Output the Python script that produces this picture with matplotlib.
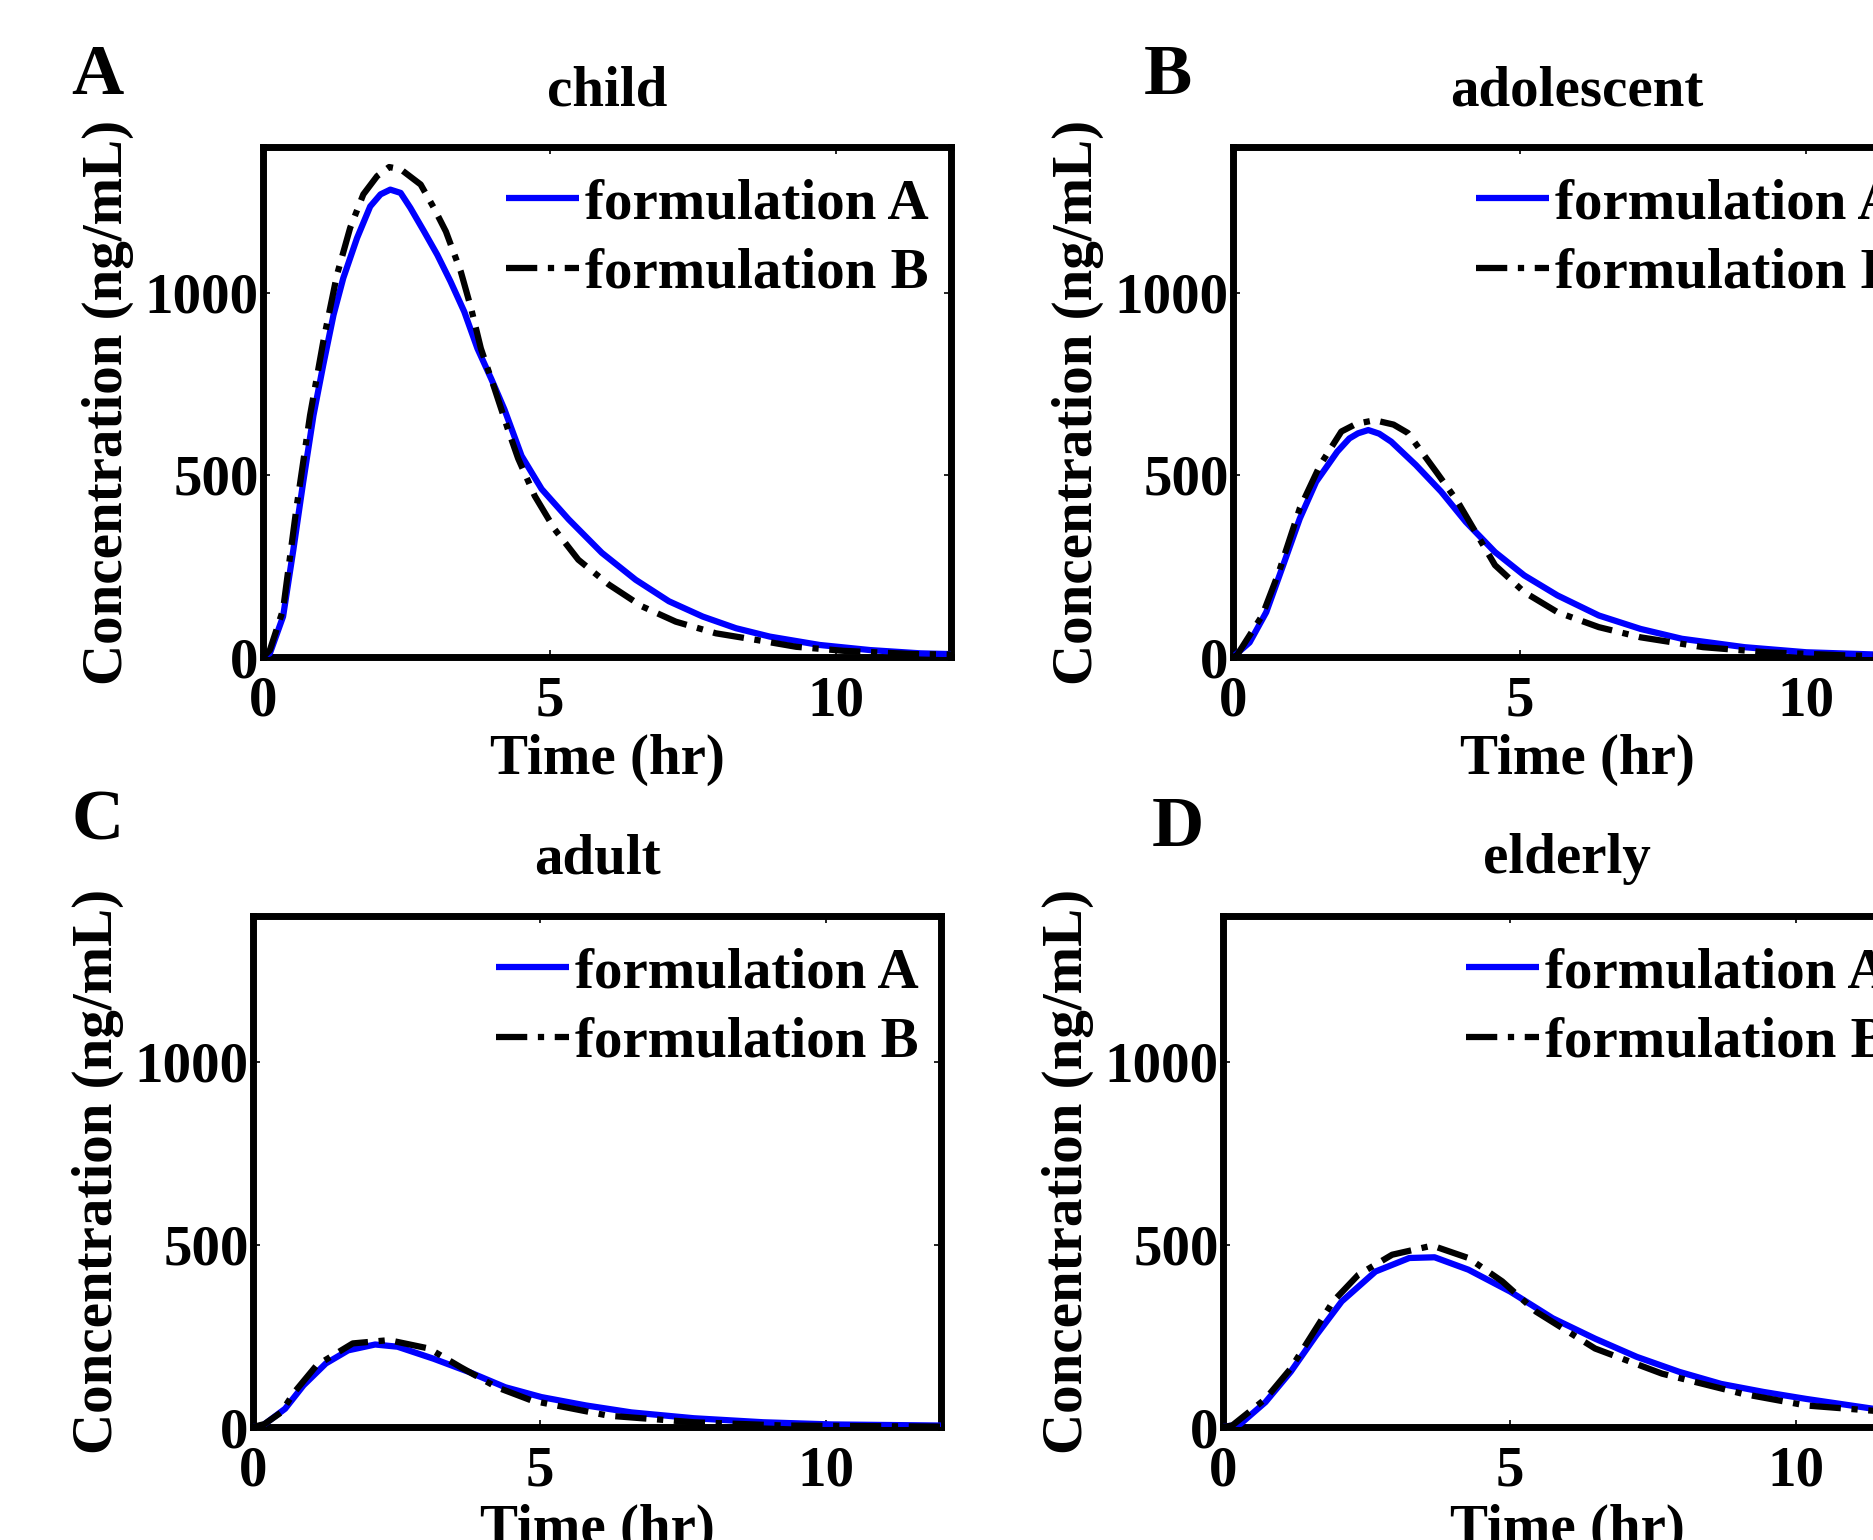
import matplotlib
matplotlib.use("Agg")
import matplotlib.pyplot as plt

plt.rcParams['font.family'] = ['Liberation Serif', 'DejaVu Serif']
plt.rcParams['font.weight'] = 'bold'

# ---------------- data ----------------
panel_letters = ['A', 'B', 'C', 'D']
panel_titles = ['child', 'adolescent', 'adult', 'elderly']
series_labels = ['formulation A', 'formulation B']
x_ticks = [0, 5, 10]
y_ticks = [0, 500, 1000]

child_t_A = [0, 0.12, 0.35, 0.53, 0.70, 0.88, 1.05, 1.23, 1.40, 1.64, 1.87, 2.05, 2.22, 2.40, 2.57,
             2.81, 3.04, 3.27, 3.51, 3.74, 3.98, 4.21, 4.51, 4.86, 5.33, 5.91, 6.50, 7.08, 7.67,
             8.25, 8.84, 9.71, 10.59, 11.47, 12]
child_c_A = [0, 10, 111, 295, 479, 663, 801, 939, 1040, 1150, 1237, 1270, 1283, 1274, 1233,
             1168, 1104, 1031, 948, 847, 764, 680, 552, 461, 378, 286, 212, 153, 111,
             79, 56, 33, 19, 10, 8]
child_t_B = [0, 0.12, 0.35, 0.58, 0.82, 1.05, 1.29, 1.52, 1.75, 1.99, 2.2, 2.40, 2.75, 2.98, 3.19,
             3.45, 3.63, 3.80, 4.04, 4.27, 4.45, 4.74, 5.09, 5.50, 6.03, 6.61, 7.20, 7.90, 8.60,
             9.30, 10.12, 11.35, 12]
child_c_B = [0, 19, 130, 405, 663, 865, 1049, 1178, 1270, 1320, 1345, 1339, 1297, 1233, 1168,
             1058, 957, 847, 736, 626, 545, 442, 350, 267, 199, 139, 97, 65, 47,
             28, 17, 8, 7]

adol_t_A = [0, 0.29, 0.58, 0.875, 1.165, 1.45, 1.82, 2.03, 2.18, 2.36, 2.55, 2.76, 3.19, 3.63, 4.06,
            4.57, 5.08, 5.66, 6.38, 7.11, 7.83, 8.92, 10.0, 11.17, 12]
adol_c_A = [0, 40, 123, 252, 380, 481, 564, 600, 614, 623, 613, 591, 527, 454, 371,
            288, 224, 169, 114, 77, 50, 27, 13, 7, 5]
adol_t_B = [0, 0.07, 0.51, 0.8, 1.165, 1.52, 1.89, 2.15, 2.47, 2.8, 3.05, 3.56, 3.92, 4.57, 5.08,
            5.66, 6.38, 7.11, 8.2, 9.3, 10.74, 12]
adol_c_B = [0, 5, 114, 233, 408, 527, 619, 640, 650, 638, 615, 505, 426, 252, 178,
            123, 82, 54, 27, 13, 4, 2]

adult_t_A = [0, 0.17, 0.56, 0.88, 1.27, 1.66, 2.13, 2.52, 3.15, 3.78, 4.4, 5.03, 5.81, 6.6, 7.69,
             8.9, 10.1, 12]
adult_c_A = [0, 4, 50, 114, 174, 210, 226, 220, 187, 150, 109, 82, 59, 40, 24,
             13, 7, 4]
adult_t_B = [0, 0.2, 0.49, 0.72, 1.11, 1.74, 2.37, 3.07, 3.62, 4.25, 4.87, 6.2, 7.69, 9.26, 12]
adult_c_B = [0, 8, 40, 95, 169, 229, 238, 215, 164, 109, 72, 31, 13, 4, 1]

eld_t_A = [0, 0.3, 0.74, 1.18, 1.63, 2.07, 2.66, 3.25, 3.69, 4.28, 5.01, 5.75, 6.49, 7.22, 7.96,
           8.69, 9.43, 10.17, 11.34, 12]
eld_c_A = [0, 8, 68, 151, 252, 344, 426, 463, 465, 431, 371, 298, 242, 192, 151,
           118, 96, 77, 50, 42]
eld_t_B = [0, 0.16, 0.74, 1.18, 1.92, 2.36, 2.95, 3.65, 4.28, 4.87, 5.46, 6.49, 7.66, 9.06, 10.17,
           11.3, 12]
eld_c_B = [0, 4, 77, 160, 344, 417, 472, 497, 463, 399, 316, 215, 146, 91, 59,
           45, 38]

panels_data = [
    (child_t_A, child_c_A, child_t_B, child_c_B),
    (adol_t_A, adol_c_A, adol_t_B, adol_c_B),
    (adult_t_A, adult_c_A, adult_t_B, adult_c_B),
    (eld_t_A, eld_c_A, eld_t_B, eld_c_B),
]

# ---------------- layout (pixels of the 1873x1540 figure) ----------------
W, H = 1873, 1540
fig = plt.figure(figsize=(W / 100, H / 100), dpi=100)

# (left, top, bottom) in pixels
axes_px = [(263, 147, 657), (1233, 147, 657), (253, 916, 1427), (1223, 916, 1427)]
ax_w_px = 688
letter_px = [(97, 94), (1168, 94), (98, 840), (1178, 846)]
title_base_px = [105, 105, 873, 873]

FS = 41
for i, (l, t, b) in enumerate(axes_px):
    ax = fig.add_axes([l / W, 1 - b / H, ax_w_px / W, (b - t) / H])
    tA, cA, tB, cB = panels_data[i]
    ax.plot(tA, cA, color=(0, 0, 1), lw=4.5, label=series_labels[0], zorder=3,
            solid_capstyle='butt', solid_joinstyle='round')
    ax.plot(tB, cB, color='black', lw=4.5, label=series_labels[1], zorder=3,
            linestyle=(0, (5, 1.7, 1, 1.7)), dash_capstyle='butt')
    ax.set_xlim(0, 12)
    ax.set_ylim(0, 1400)
    ax.set_xticks(x_ticks)
    ax.set_yticks(y_ticks)
    for s in ax.spines.values():
        s.set_linewidth(5)
    ax.tick_params(direction='in', length=5, width=1.2, top=True, right=True,
                   labelsize=FS)
    ax.tick_params(axis='x', pad=13)
    ax.tick_params(axis='y', pad=3)
    for lab in ax.get_xticklabels() + ax.get_yticklabels():
        lab.set_fontweight('bold')
    ax.set_xlabel('Time (hr)', fontsize=FS, fontweight='bold', va='center')
    ax.xaxis.set_label_coords(0.5, -0.202)
    ax.set_ylabel('Concentration (ng/mL)', fontsize=FS, fontweight='bold', va='center')
    ax.yaxis.set_label_coords(-0.226, 0.5)
    leg = ax.legend(loc='upper right', bbox_to_anchor=(0.968, 0.9385), frameon=False,
                    fontsize=FS, handlelength=1.27, handletextpad=0.12,
                    borderpad=0, borderaxespad=0, labelspacing=0.3)
    for txt in leg.get_texts():
        txt.set_fontweight('bold')

    cx = (l + ax_w_px / 2) / W
    fig.text(cx, 1 - title_base_px[i] / H, panel_titles[i], ha='center', va='baseline',
             fontsize=FS, fontweight='bold')
    lx, ly = letter_px[i]
    fig.text(lx / W, 1 - ly / H, panel_letters[i], ha='center', va='baseline',
             fontsize=52, fontweight='bold')

fig.savefig('out.png', dpi=100)
